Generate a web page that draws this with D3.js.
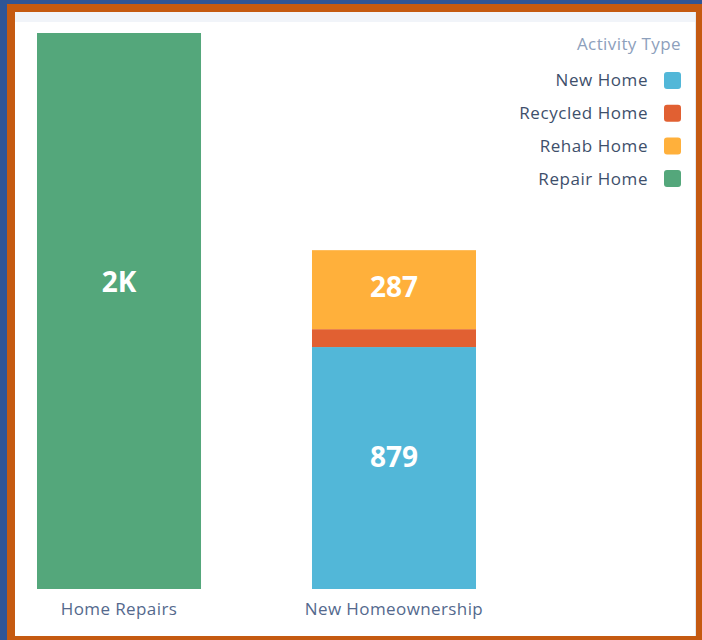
<!DOCTYPE html>
<html>
<head>
<meta charset="utf-8">
<script src="https://cdn.jsdelivr.net/npm/d3@7"></script>
<style>
  body { margin: 0; background: #2F5597; }
  text { font-family: "Open Sans", sans-serif; }
</style>
</head>
<body>
<script>
// chart data
var categories = ["Home Repairs", "New Homeownership"];
var activityTypes = ["New Home", "Recycled Home", "Rehab Home", "Repair Home"];
var newHome      = [0, 879];
var recycledHome = [0, 65];
var rehabHome    = [0, 287];
var repairHome   = [2020, 0];
var typeColors = ["#52B7D8", "#E16032", "#FFB03B", "#54A77B"];

var w = 702, h = 640;

var svg = d3.select("body")
  .append("svg")
  .attr("width", w)
  .attr("height", h)
  .style("display", "block");

// frame: blue page, orange border, white panel with a light strip on top
svg.append("rect").attr("width", w).attr("height", h).style("fill", "#2F5597");
svg.append("rect").attr("x", 7).attr("y", 4).attr("width", w - 7).attr("height", h - 4).style("fill", "#C55A11");
svg.append("rect").attr("x", 15).attr("y", 12).attr("width", 681).attr("height", 624).style("fill", "#FFFFFF");
svg.append("rect").attr("x", 15).attr("y", 12).attr("width", 681).attr("height", 10).style("fill", "#F1F4F9");
svg.append("line").attr("x1", 695.5).attr("x2", 695.5).attr("y1", 12).attr("y2", 636)
  .style("stroke", "#E4E8EE");

// build stacked rows from the arrays
var rows = categories.map(function(c, i){
  return {
    category: c,
    "New Home": newHome[i],
    "Recycled Home": recycledHome[i],
    "Rehab Home": rehabHome[i],
    "Repair Home": repairHome[i]
  };
});

var series = d3.stack().keys(activityTypes)(rows);

var x = d3.scaleBand()
  .domain(categories)
  .range([16, 497])
  .paddingInner(0.4036)
  .paddingOuter(0.0764);

var y = d3.scaleLinear()
  .domain([0, 2020])
  .range([589, 33]);

var color = d3.scaleOrdinal()
  .domain(activityTypes)
  .range(typeColors);

var layers = svg.selectAll(".layer")
  .data(series)
  .enter()
  .append("g")
  .attr("class", "layer")
  .style("fill", function(d){ return color(d.key); });

layers.selectAll("rect")
  .data(function(d){ return d; })
  .enter()
  .append("rect")
  .attr("x", function(d){ return x(d.data.category); })
  .attr("width", x.bandwidth())
  .attr("y", function(d){ return y(d[1]); })
  .attr("height", function(d){ return y(d[0]) - y(d[1]); });

// value labels, only on segments big enough
var fmt = function(v){ return v >= 1000 ? Math.round(v / 1000) + "K" : d3.format(",")(v); };

layers.selectAll(".valueLabel")
  .data(function(d){ return d.filter(function(s){ return (s[1] - s[0]) > 200; }); })
  .enter()
  .append("text")
  .attr("class", "valueLabel")
  .attr("x", function(d){ return x(d.data.category) + x.bandwidth() / 2; })
  .attr("y", function(d){
    var top = y(d[1]), bottom = y(d[0]);
    return (top + bottom) / 2 - (bottom - top) * 0.055 + 2;
  })
  .attr("dy", "0.35em")
  .attr("text-anchor", "middle")
  .style("fill", "#FFFFFF")
  .style("font-size", "28px")
  .style("font-weight", "bold")
  .text(function(d){ return fmt(d[1] - d[0]); });

// category axis
var xAxis = d3.axisBottom(x).tickSize(0).tickPadding(14);
var axis = svg.append("g")
  .attr("class", "axis")
  .attr("transform", "translate(0,589)");
xAxis(axis);
axis.select(".domain").remove();
axis.selectAll("text")
  .style("font-family", "'Open Sans', sans-serif")
  .style("font-size", "17px")
  .style("letter-spacing", "0.4px")
  .style("fill", "#54698D");

// legend
var legend = svg.append("g").attr("class", "legend");

legend.append("text")
  .attr("x", 681)
  .attr("y", 50)
  .attr("text-anchor", "end")
  .style("font-size", "17px")
  .style("letter-spacing", "0.4px")
  .style("fill", "#8DA0BC")
  .text("Activity Type");

var items = legend.selectAll(".item")
  .data(activityTypes)
  .enter()
  .append("g")
  .attr("class", "item")
  .attr("transform", function(d, i){ return "translate(0," + (80.5 + i * 32.7) + ")"; });

items.append("rect")
  .attr("x", 664)
  .attr("y", -8.5)
  .attr("width", 17)
  .attr("height", 17)
  .attr("rx", 3)
  .style("fill", function(d){ return color(d); });

items.append("text")
  .attr("x", 648)
  .attr("dy", "0.35em")
  .attr("text-anchor", "end")
  .style("font-size", "17px")
  .style("letter-spacing", "0.55px")
  .style("fill", "#3E4F6B")
  .text(function(d){ return d; });
</script>
</body>
</html>
